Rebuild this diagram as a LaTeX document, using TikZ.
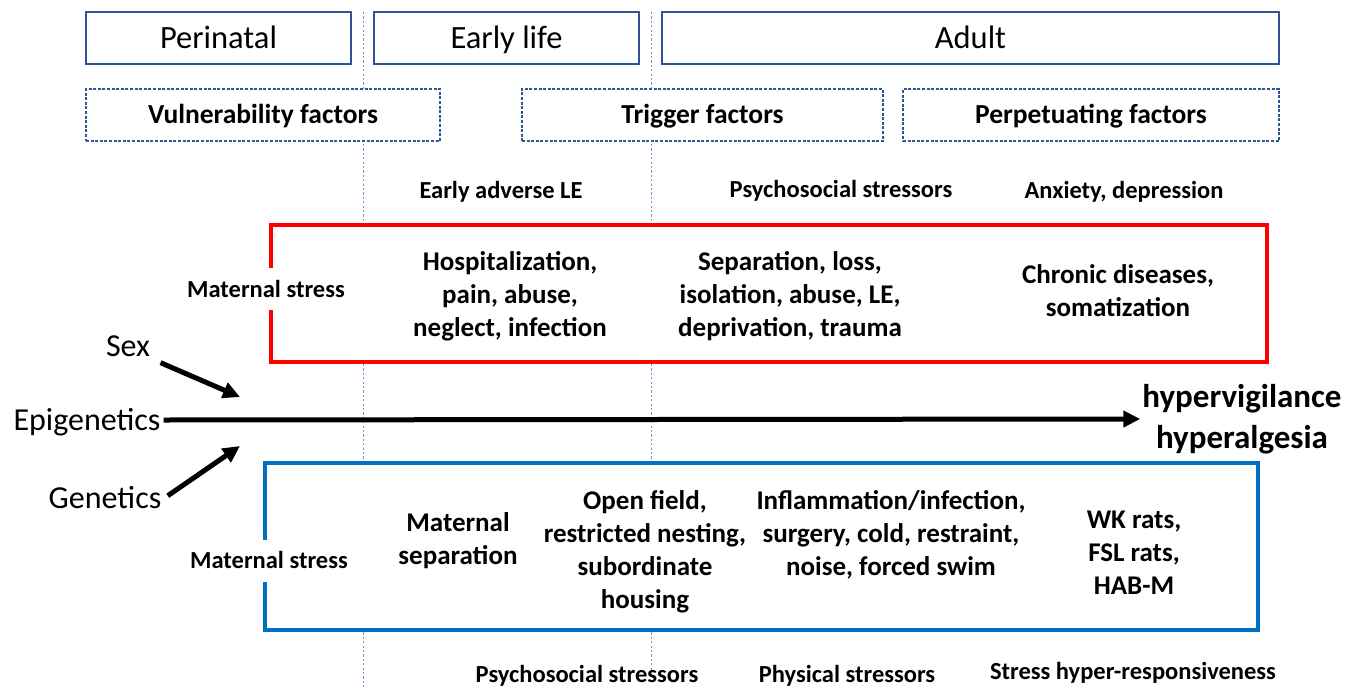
\documentclass[tikz,border=0pt]{standalone}
\usepackage{fontspec}
\setmainfont{Carlito}
\usetikzlibrary{arrows.meta}
\definecolor{frameblue}{HTML}{2F5597}
\definecolor{guideblue}{HTML}{5B9BD5}
\definecolor{boxred}{HTML}{FF0000}
\definecolor{boxblue}{HTML}{0070C0}

\begin{document}
\begin{tikzpicture}[x=1pt,y=-1pt,
  oneline/.style={text height=#1,text depth=0pt},
  stage/.style={draw=frameblue,line width=1.4pt,fill=white,minimum height=52pt,inner sep=0pt,
    font=\fontsize{32.5}{38}\selectfont,oneline=21pt},
  factor/.style={draw=frameblue,line width=1.4pt,dash pattern=on 3pt off 1.6pt,fill=white,
    minimum height=52pt,inner sep=0pt,font=\bfseries\fontsize{27.5}{33}\selectfont,oneline=17.7pt},
  label/.style={font=\bfseries\fontsize{24.5}{30}\selectfont,inner sep=2pt,oneline=15.8pt},
  item/.style={font=\bfseries\fontsize{27}{33}\selectfont,align=center,inner sep=2pt},
  plain/.style={font=\fontsize{32}{38}\selectfont,inner sep=3pt,oneline=20.6pt},
  guide/.style={draw=guideblue,line width=1pt,dash pattern=on 2.2pt off 2.2pt},
  fat/.style={line width=5pt,-{Triangle[length=17pt,width=16pt]}},
  panel/.style={fill=white,draw=none,inner sep=0pt},
]
\useasboundingbox (0,0) rectangle (1359,688);

% dashed stage dividers
\draw[guide] (363,12) -- (363,688);
\draw[guide] (651,12) -- (651,673);

% life stages
\node[stage,minimum width=265pt] (perinatal) at (218.5,38) {Perinatal};
\node[stage,minimum width=265pt] (early) at (506.5,38) {Early life};
\node[stage,minimum width=617pt] (adult) at (970.5,38) {Adult};

% factor groups
\node[factor,minimum width=354pt] (vuln) at (263,115) {Vulnerability factors};
\node[factor,minimum width=361pt] (trig) at (702.5,115) {Trigger factors};
\node[factor,minimum width=376pt] (perp) at (1091,115) {Perpetuating factors};

% human panel headings
\node[label] (hEarly) at (501,191) {Early adverse LE};
\node[label] (hPsych) at (841,190) {Psychosocial stressors};
\node[label] (hAnx) at (1124,191) {Anxiety, depression};

% human panel (red)
\node[panel,minimum width=996pt,minimum height=137pt] (human) at (769,293.5) {};
\draw[boxred,line width=4pt,line join=miter] (271,268) |- (1267,225) |- (271,362) -- (271,310);
\node[label] (hMat) at (266,290) {Maternal stress};
\node[item] (hHosp) at (510,296) {Hospitalization,\\pain, abuse,\\neglect, infection};
\node[item] (hSep) at (790,296) {Separation, loss,\\isolation, abuse, LE,\\deprivation, trauma};
\node[item] (hChron) at (1118,291) {Chronic diseases,\\somatization};

% animal panel (blue)
\node[panel,minimum width=993pt,minimum height=167pt] (animal) at (761.5,546.5) {};
\draw[boxblue,line width=4pt,line join=miter] (265,540) |- (1258,463) |- (265,630) -- (265,582);
\node[label] (aMat) at (269,561) {Maternal stress};
\node[item] (aSep) at (458,541) {Maternal\\separation};
\node[item] (aOpen) at (645,552) {Open field,\\restricted nesting,\\subordinate\\housing};
\node[item] (aInfl) at (891,535) {Inflammation/infection,\\surgery, cold, restraint,\\noise, forced swim};
\node[item] (aRats) at (1134,553) {WK rats,\\FSL rats,\\HAB-M};

% animal panel headings
\node[label] (bPsych) at (587,675) {Psychosocial stressors};
\node[label] (bPhys) at (847,675) {Physical stressors};
\node[label] (bStress) at (1133,672) {Stress hyper-responsiveness};

% influences and main course
\node[plain] (sex) at (128,346) {Sex};
\node[plain] (epi) at (87,420) {Epigenetics};
\node[plain] (gen) at (105,498) {Genetics};
\node[font=\bfseries\fontsize{33}{41}\selectfont,align=center,inner sep=2pt] (outcome) at (1242,419)
  {hypervigilance\\hyperalgesia};
\coordinate (sexTip) at (240,397);
\coordinate (genTip) at (240,446);

\draw[fat] (epi.east) -- (outcome.west);
\draw[fat,shorten <=8pt] (sex.south east) -- (sexTip);
\draw[fat,shorten <=4pt] (gen.east) -- (genTip);
\end{tikzpicture}
\end{document}
